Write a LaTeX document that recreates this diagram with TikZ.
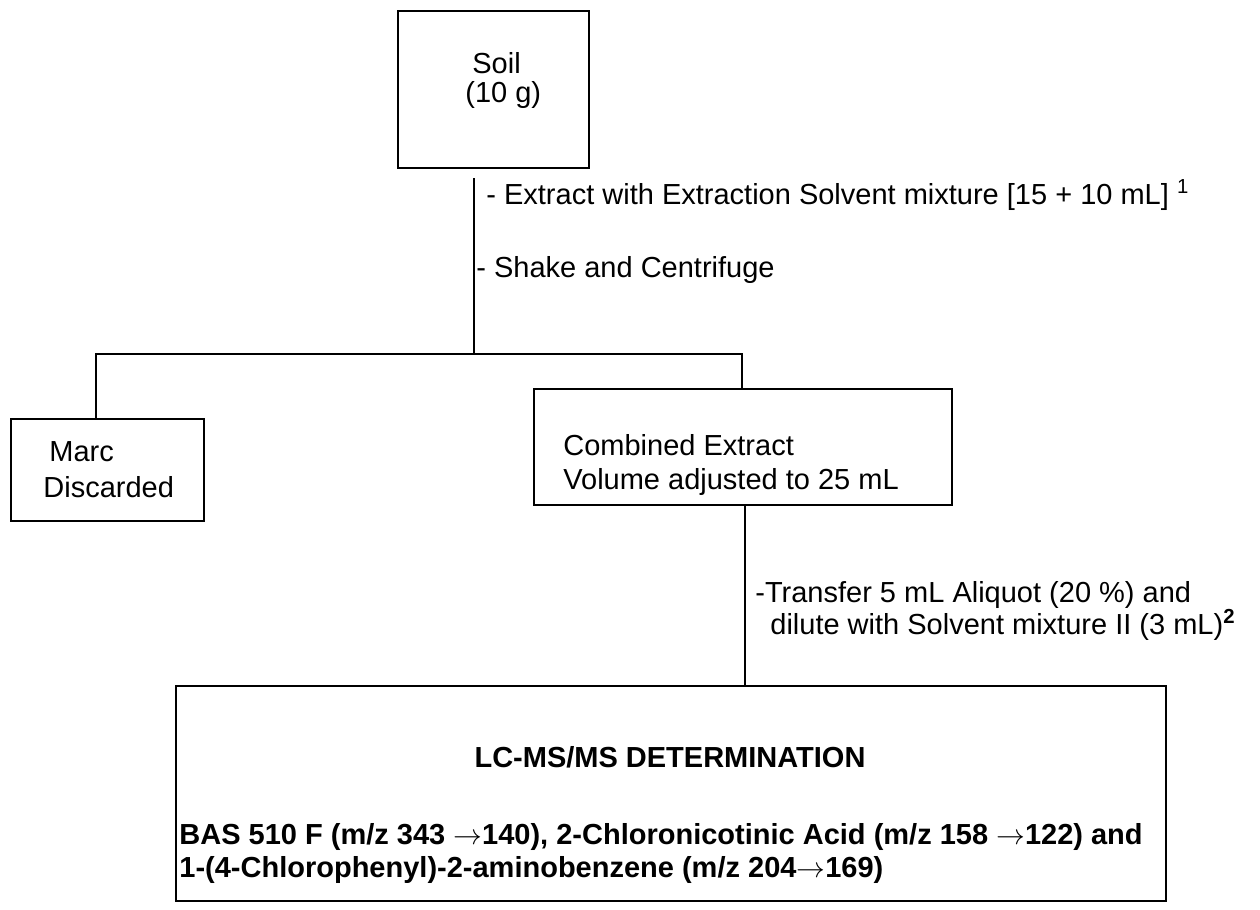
\documentclass[tikz,border=0pt]{standalone}
\usepackage{fontspec}
\setmainfont{Liberation Sans}
\newcommand{\rarr}{\ensuremath{\rightarrow}}
\begin{document}
\begin{tikzpicture}[x=0.5pt,y=-0.5pt,
  box/.style={draw, line width=1.2pt, inner sep=0pt, anchor=north west},
  txt/.style={anchor=west, inner sep=0pt, font=\fontsize{14.5}{17}\selectfont},
  btxt/.style={anchor=west, inner sep=0pt, font=\fontsize{14.5}{17}\selectfont\bfseries},
  link/.style={line width=1.2pt}]
\useasboundingbox (0,0) rectangle (1260,910);
% boxes
\node[box, minimum width=95.5pt, minimum height=78.5pt] (soil) at (397,10) {};
\node[box, minimum width=96.5pt, minimum height=51pt] (marc) at (10,418) {};
\node[box, minimum width=209pt, minimum height=58pt] (comb) at (533,388) {};
\node[box, minimum width=495pt, minimum height=107.5pt] (lcms) at (175,685) {};
% connectors
\coordinate (s0) at (474,178);
\coordinate (j) at (474,354);
\draw[link] (s0) -- (j);
\draw[link] ([xshift=43pt]marc.north west) |- (j) -| ([xshift=104.5pt]comb.north west);
\draw[link] ([xshift=106pt]comb.south west) coordinate (c1) -- (c1 |- lcms.north);
% texts
\node[txt] (t1) at (472,63) {Soil};
\node[txt] (t2) at (465,95) {(10 g)};
\node[txt] (t3) at (486,195) {- Extract with Extraction Solvent mixture [15 + 10 mL] \textsuperscript{1}};
\node[txt] (t4) at (476,270) {- Shake and Centrifuge};
\node[txt] (t5) at (49,452) {Marc};
\node[txt] (t6) at (43,487) {Discarded};
\node[txt] (t7) at (563,445) {Combined Extract};
\node[txt] (t8) at (563,482) {Volume adjusted to 25 mL};
\node[txt] (t9) at (755,595) {-Transfer 5 mL Aliquot (20 \%) and};
\node[txt] (t10) at (770,625) {dilute with Solvent mixture II (3 mL)\textsuperscript{\bfseries 2}};
\node[btxt, anchor=center] (t11) at (670,757) {LC-MS/MS DETERMINATION};
\node[btxt] (t12) at (179,837) {BAS 510 F (m/z 343 \rarr140), 2-Chloronicotinic Acid (m/z 158 \rarr122) and};
\node[btxt] (t13) at (179,870) {1-(4-Chlorophenyl)-2-aminobenzene (m/z 204\rarr169)};
\end{tikzpicture}
\end{document}
